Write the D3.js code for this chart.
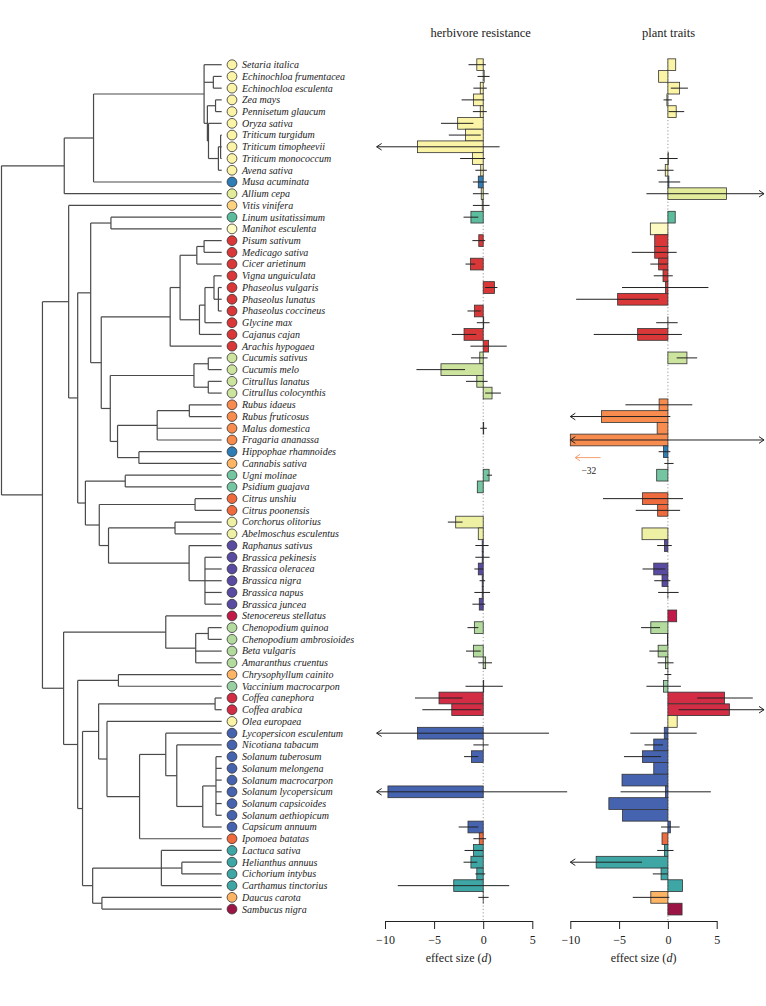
<!DOCTYPE html>
<html>
<head>
<meta charset="utf-8">
<script src="https://cdn.jsdelivr.net/npm/d3@7"></script>
<style>
  body { margin: 0; background: #fff; }
  svg { display: block; }
  text { font-family: "Liberation Serif", "Times New Roman", serif; fill: #222; }
</style>
</head>
<body>
<svg id="chart" width="766" height="1006"></svg>
<script>
// species in tree order (top to bottom)
const species = [
  "Setaria italica", "Echinochloa frumentacea", "Echinochloa esculenta", "Zea mays", "Pennisetum glaucum",
  "Oryza sativa", "Triticum turgidum", "Triticum timopheevii", "Triticum monococcum", "Avena sativa",
  "Musa acuminata", "Allium cepa", "Vitis vinifera", "Linum usitatissimum", "Manihot esculenta",
  "Pisum sativum", "Medicago sativa", "Cicer arietinum", "Vigna unguiculata", "Phaseolus vulgaris",
  "Phaseolus lunatus", "Phaseolus coccineus", "Glycine max", "Cajanus cajan", "Arachis hypogaea",
  "Cucumis sativus", "Cucumis melo", "Citrullus lanatus", "Citrullus colocynthis", "Rubus idaeus",
  "Rubus fruticosus", "Malus domestica", "Fragaria ananassa", "Hippophae rhamnoides", "Cannabis sativa",
  "Ugni molinae", "Psidium guajava", "Citrus unshiu", "Citrus poonensis", "Corchorus olitorius",
  "Abelmoschus esculentus", "Raphanus sativus", "Brassica pekinesis", "Brassica oleracea", "Brassica nigra",
  "Brassica napus", "Brassica juncea", "Stenocereus stellatus", "Chenopodium quinoa", "Chenopodium ambrosioides",
  "Beta vulgaris", "Amaranthus cruentus", "Chrysophyllum cainito", "Vaccinium macrocarpon", "Coffea canephora",
  "Coffea arabica", "Olea europaea", "Lycopersicon esculentum", "Nicotiana tabacum", "Solanum tuberosum",
  "Solanum melongena", "Solanum macrocarpon", "Solanum lycopersicum", "Solanum capsicoides", "Solanum aethiopicum",
  "Capsicum annuum", "Ipomoea batatas", "Lactuca sativa", "Helianthus annuus", "Cichorium intybus",
  "Carthamus tinctorius", "Daucus carota", "Sambucus nigra"
];

// colour class of each species (same order)
const speciesClass = [
  "A","A","A","A","A","A","A","A","A","A",
  "B","C","D","E","F",
  "G","G","G","G","G","G","G","G","G","G",
  "H","H","H","H","I","I","I","I","B","J",
  "K","K","L","L","M","M",
  "N","N","N","N","N","N",
  "O","P","P","P","P","J","Q","R","R","A",
  "S","S","S","S","S","S","S","S","S","L",
  "T","T","T","T","J","U"
];

// tree, internal nodes labelled with relative node height (tips = 100)
const treeNewick =
  "((((Setaria italica,(Echinochloa frumentacea,Echinochloa esculenta)96.2,((Zea mays,Pennisetum glaucum)97.2,(Oryza sativa,((Triticum turgidum,Triticum timopheevii,Triticum monococcum)99.5,Avena sativa)98.5)94.0)93.5)92.0,Musa acuminata)41.8,Allium cepa)28.5," +
  "((Vitis vinifera,(((Linum usitatissimum,Manihot esculenta)49.7,(((((Pisum sativum,Medicago sativa)92.0,Cicer arietinum)88.7,(((Vigna unguiculata,(Phaseolus vulgaris,Phaseolus lunatus,Phaseolus coccineus)98.5)96.5,Glycine max)92.4,Cajanus cajan)89.9)81.1,Arachis hypogaea)76.6," +
  "(((Cucumis sativus,Cucumis melo)93.9,(Citrullus lanatus,Citrullus colocynthis)93.9)87.4,(((Rubus idaeus,Rubus fruticosus)85.3,Malus domestica,Fragaria ananassa)70.7,(Hippophae rhamnoides,Cannabis sativa)62.4)52.7)49.4)45.3)40.5," +
  "((Ugni molinae,Psidium guajava)56.2,((Citrus unshiu,Citrus poonensis)87.9,((Corchorus olitorius,Abelmoschus esculentus)78.8,(Raphanus sativus,(Brassica pekinesis,Brassica oleracea,Brassica nigra,Brassica napus,Brassica juncea)92.4)85.2)48.6)44.4)38.1)34.6)30.5," +
  "((Stenocereus stellatus,((Chenopodium quinoa,Chenopodium ambrosioides)93.9,Beta vulgaris,Amaranthus cruentus)88.2)74.6,((Chrysophyllum cainito,Vaccinium macrocarpon)53.1," +
  "(((Coffea canephora,Coffea arabica)97.0,(Olea europaea,((Lycopersicon esculentum,(Nicotiana tabacum,((Solanum tuberosum,Solanum melongena,Solanum macrocarpon,Solanum lycopersicum,Solanum capsicoides,Solanum aethiopicum)97.4,Capsicum annuum)91.4)79.6)74.6,Ipomoea batatas)62.7)47.9)44.1," +
  "((Lactuca sativa,(Helianthus annuus,Cichorium intybus)81.9,Carthamus tinctorius)72.6,(Daucus carota,Sambucus nigra)45.6)41.4)36.8)34.6)28.2)18.6)0";

// herbivore resistance: effect size d and 95% CI (null = no data / no CI)
const herbD = [
  -0.65, 0.1, -0.3, -1.0, -0.3, -2.6, -1.8, -6.7, -1.1, -0.25,
  -0.5, -0.2, -0.1, -1.25, null,
  -0.45, null, -1.3, null, 1.15, null, -0.9, 0.05, -1.95, 0.55,
  -0.35, -4.3, -0.65, 0.9, null, null, 0.05, null, null, null,
  0.6, -0.6, null, null, -2.8, -0.5,
  -0.1, -0.1, -0.5, -0.1, -0.1, -0.4,
  null, -0.9, null, -1.0, 0.25, null, 0.05, -4.5, -3.2, null,
  -6.7, 0.0, -1.2, null, null, -9.7, null, null, -1.55, -0.4,
  -1.0, -1.25, -0.65, -3.0, 0.0, null
];
const herbLo = [
  -1.5, -0.58, -1.0, -2.2, -1.05, -4.3, -3.5, -14, -2.35, -0.8,
  -1.05, -1.05, -1.05, -2.0, null,
  -1.1, null, -1.8, null, 0.2, null, -1.6, -0.65, -3.2, -1.3,
  -1.25, -6.8, -1.75, 0.2, null, null, -0.3, null, null, null,
  0.37, null, null, null, -3.6, null,
  -0.8, -0.8, -0.9, -0.37, -0.9, -1.1,
  null, -1.6, null, -1.75, -0.5, null, -1.8, -6.95, -6.2, null,
  -14, -1.0, -1.95, null, null, -14, null, null, -2.5, -1.0,
  -1.9, -2.0, -0.8, -8.7, -0.5, null
];
const herbHi = [
  0.27, 0.65, 0.37, 0.1, 0.37, -1.0, -0.25, 1.67, 0.2, 0.37,
  0.37, 0.55, 0.65, -0.5, null,
  0.2, null, -0.8, null, 1.45, null, -0.25, 0.65, -0.7, 2.4,
  0.45, -1.85, 0.45, 1.8, null, null, 0.37, null, null, null,
  0.9, null, null, null, -2.1, null,
  0.55, 0.65, 0.0, 0.2, 0.7, 0.2,
  null, -0.5, null, -0.25, 0.9, null, 2.0, -2.1, -0.25, null,
  6.7, 0.55, -0.5, null, null, 8.55, null, null, -0.5, 0.3,
  0.0, -0.6, 0.2, 2.65, 0.55, null
];

// plant traits: effect size d and 95% CI
const traitD = [
  0.8, -0.95, 1.2, -0.1, 0.85, null, null, null, 0.05, -0.27,
  0.1, 6.0, null, 0.75, -1.8,
  -1.35, -1.35, -0.95, -0.5, -0.25, -5.15, null, 0.0, -3.1, null,
  1.95, null, null, null, -0.9, -6.8, -1.1, -32, -0.45, 0.0,
  -1.15, null, -2.6, -1.05, null, -2.65,
  -0.35, null, -1.45, -0.6, 0.0, null,
  0.9, -1.75, -0.05, -1.0, -0.25, 0.0, -0.45, 5.8, 6.3, 0.95,
  -0.37, -1.45, -2.6, -1.45, -4.7, -0.25, -6.05, -4.65, 0.25, -0.6,
  -0.35, -7.35, -0.7, 1.5, -1.75, 1.45
];
const traitLo = [
  null, null, 0.3, -0.45, 0.07, null, null, null, -0.85, -1.1,
  -0.95, -2.2, null, null, null,
  null, -3.7, -1.8, -1.45, -4.7, -9.4, null, -1.2, -7.6, null,
  0.9, null, null, null, -4.35, -14, null, -40, -0.95, -0.37,
  null, null, -6.65, -3.3, null, null,
  -1.1, null, -2.6, -1.4, -1.0, null,
  null, -2.75, null, -1.9, -1.05, -0.35, -2.2, 3.0, 1.1, null,
  -3.85, -2.4, -4.5, null, null, -4.85, null, null, -0.7, null,
  -1.1, -14, -1.55, null, -3.6, null
];
const traitHi = [
  null, null, 2.05, 0.4, 1.67, null, null, null, 1.0, 0.58,
  1.26, 15, null, null, null,
  null, 0.9, 0.0, 0.5, 4.15, -0.95, null, 1.0, 1.43, null,
  3.0, null, null, null, 2.5, 0.25, null, 15, 0.25, 0.58,
  null, null, 1.55, 1.25, null, null,
  0.4, null, -0.27, 0.25, 1.1, null,
  null, -0.8, null, -0.1, 0.58, 0.35, 1.33, 8.7, 15, null,
  2.95, -0.5, -0.7, null, null, 4.4, null, null, 1.2, null,
  0.58, -2.65, 0.0, null, 0.15, null
];

const tickValues = [-10, -5, 0, 5];

const palette = {
  A: "#fbf3a6", B: "#2f7db6", C: "#e2ec9a", D: "#fdd27e", E: "#5bbd9e", F: "#fefbc2",
  G: "#da3838", H: "#cce49e", I: "#f88c4e", J: "#fdb465", K: "#74c5a1", L: "#ef6a3c",
  M: "#eef0a4", N: "#5a4ba2", O: "#c21a48", P: "#b3db9e", Q: "#98d0a2", R: "#d22d45",
  S: "#4563ae", T: "#3ea7a6", U: "#9c1446"
};

const serif = "'Liberation Serif', 'Times New Roman', serif";
const svg = d3.select("#chart");

// simple newick reader: internal node label = node height
function parseNewick(s) {
  let i = 0;
  function node() {
    const n = {};
    if (s[i] === "(") {
      i++;
      n.children = [];
      do { n.children.push(node()); } while (s[i++] === ",");
    }
    const start = i;
    while (i < s.length && s[i] !== "," && s[i] !== ")") i++;
    const lab = s.slice(start, i).trim();
    if (n.children) n.h = +lab; else { n.name = lab; n.h = 100; }
    return n;
  }
  return node();
}

const yRow = d3.scalePoint().domain(species).range([64.7, 909.1]);
const step = yRow.step();
const xTree = d3.scaleLinear().domain([0, 100]).range([1.5, 221.7]);

// tree
const root = d3.hierarchy(parseNewick(treeNewick));
root.eachAfter(n => {
  n.px = xTree(n.data.h);
  if (n.children) {
    n.py = (n.children[0].py + n.children[n.children.length - 1].py) / 2;
  } else {
    n.py = yRow(n.data.name);
  }
});

const gTree = svg.append("g")
  .attr("fill", "none")
  .attr("stroke", "#4a4a4a")
  .attr("stroke-width", 1.2);

root.descendants().filter(n => n.children).forEach(n => {
  const first = n.children[0], last = n.children[n.children.length - 1];
  gTree.append("line")
    .attr("x1", n.px).attr("x2", n.px)
    .attr("y1", first.py).attr("y2", last.py);
  n.children.forEach(c => {
    gTree.append("line")
      .attr("x1", n.px).attr("x2", c.px)
      .attr("y1", c.py).attr("y2", c.py);
  });
});

// tip circles and names
const tips = svg.append("g").selectAll("g")
  .data(species)
  .enter().append("g")
  .attr("transform", d => "translate(0," + yRow(d) + ")");

tips.append("circle")
  .attr("cx", 232)
  .attr("r", 4.9)
  .attr("fill", (d, i) => palette[speciesClass[i]])
  .attr("stroke", "#333")
  .attr("stroke-width", 0.8);

tips.append("text")
  .attr("x", 242)
  .attr("y", 3.4)
  .style("font-size", "10px")
  .style("font-style", "italic")
  .text(d => d);

// bar panels
const panels = [
  { title: "herbivore resistance", d: herbD, lo: herbLo, hi: herbHi,
    x: d3.scaleLinear().domain([-10, 5]).range([385, 532.3]), clip: [-10.85, 10], shift: 22 },
  { title: "plant traits", d: traitD, lo: traitLo, hi: traitHi,
    x: d3.scaleLinear().domain([-10, 5]).range([570.3, 716.7]), clip: [-10, 9.85], shift: 25 }
];

const yTop = yRow(species[0]) - step / 2;
const yBottom = yRow(species[species.length - 1]) + step / 2;

panels.forEach(p => {
  const g = svg.append("g");
  const cl = v => Math.max(p.clip[0], Math.min(p.clip[1], v));
  const x0 = p.x(0);

  g.append("line")
    .attr("x1", x0).attr("x2", x0)
    .attr("y1", yTop).attr("y2", yBottom + 6)
    .attr("stroke", "#999")
    .attr("stroke-width", 1)
    .attr("stroke-dasharray", "1.2,2.2");

  const rows = species.map((s, i) => ({ s: s, i: i, v: p.d[i], lo: p.lo[i], hi: p.hi[i] }));

  g.selectAll(".bar")
    .data(rows.filter(r => r.v !== null))
    .enter().append("rect")
    .attr("class", "bar")
    .attr("x", r => p.x(Math.min(0, cl(r.v))))
    .attr("width", r => Math.max(0.01, Math.abs(p.x(cl(r.v)) - x0)))
    .attr("y", r => yRow(r.s) - step / 2)
    .attr("height", step)
    .attr("fill", r => palette[speciesClass[r.i]])
    .attr("stroke", "#333")
    .attr("stroke-width", 0.8);

  const ci = rows.filter(r => r.lo !== null && r.hi !== null);
  g.selectAll(".ci")
    .data(ci)
    .enter().append("line")
    .attr("class", "ci")
    .attr("x1", r => p.x(cl(r.lo)))
    .attr("x2", r => p.x(cl(r.hi)))
    .attr("y1", r => yRow(r.s))
    .attr("y2", r => yRow(r.s))
    .attr("stroke", "#222")
    .attr("stroke-width", 1);

  // arrow heads where the interval runs past the panel
  const arrows = [];
  ci.forEach(r => {
    if (r.lo < p.clip[0]) arrows.push({ x: p.x(p.clip[0]), y: yRow(r.s), dir: 1 });
    if (r.hi > p.clip[1]) arrows.push({ x: p.x(p.clip[1]), y: yRow(r.s), dir: -1 });
  });
  g.selectAll(".arrow")
    .data(arrows)
    .enter().append("path")
    .attr("class", "arrow")
    .attr("d", a => "M" + (a.x + 5 * a.dir) + "," + (a.y - 3.3) + "L" + a.x + "," + a.y + "L" + (a.x + 5 * a.dir) + "," + (a.y + 3.3))
    .attr("fill", "none")
    .attr("stroke", "#222")
    .attr("stroke-width", 1);

  // title
  g.append("text")
    .attr("x", (p.x(-10) + p.x(5)) / 2 + p.shift)
    .attr("y", 37)
    .attr("text-anchor", "middle")
    .style("font-size", "12.5px")
    .text(p.title);

  // axis
  const axis = g.append("g")
    .attr("transform", "translate(0,921)")
    .call(d3.axisBottom(p.x)
      .tickValues(tickValues)
      .tickSize(8)
      .tickSizeOuter(0)
      .tickPadding(6)
      .tickFormat(d => d < 0 ? "\u2212" + (-d) : String(d)));
  axis.attr("font-family", serif).attr("font-size", 12);
  axis.select(".domain").attr("stroke", "#222");
  axis.selectAll(".tick line").attr("stroke", "#222");
  axis.selectAll(".tick text")
    .style("font-size", "12px")
    .style("font-family", serif)
    .attr("fill", "#222");

  const lab = g.append("text")
    .attr("x", (p.x(-10) + p.x(5)) / 2)
    .attr("y", 962)
    .attr("text-anchor", "middle")
    .style("font-size", "12px");
  lab.append("tspan").text("effect size (");
  lab.append("tspan").style("font-style", "italic").text("d");
  lab.append("tspan").text(")");
});

// note for the off-scale Fragaria value
const pt = panels[1];
const noteY = yRow("Hippophae rhamnoides") + step / 2;
const ax = pt.x(-9.5);
svg.append("path")
  .attr("d", "M" + pt.x(-6.9) + "," + noteY + "L" + ax + "," + noteY +
    "M" + (ax + 5) + "," + (noteY - 3.3) + "L" + ax + "," + noteY + "L" + (ax + 5) + "," + (noteY + 3.3))
  .attr("fill", "none")
  .attr("stroke", "#f6a070")
  .attr("stroke-width", 1);
svg.append("text")
  .attr("x", pt.x(-8.1))
  .attr("y", noteY + 16)
  .attr("text-anchor", "middle")
  .style("font-size", "9.5px")
  .attr("fill", "#777")
  .text(String(traitD[species.indexOf("Fragaria ananassa")]).replace("-", "\u2212"));
</script>
</body>
</html>
